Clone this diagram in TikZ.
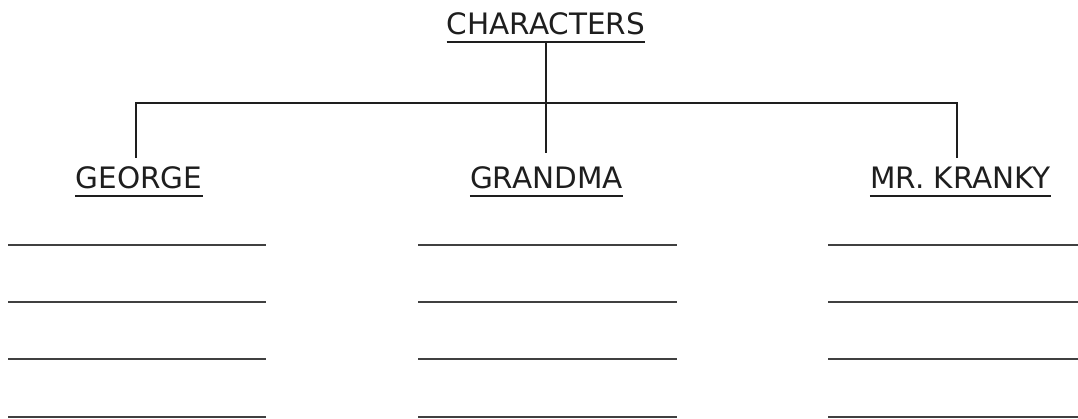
\documentclass[tikz,border=0pt]{standalone}
\usepackage{fontspec}
\setmainfont{DejaVu Sans}
\definecolor{ink}{HTML}{1E1E1E}
\begin{document}
\begin{tikzpicture}[x=1pt,y=-1pt,
  lbl/.style={inner sep=0pt,anchor=base,font=\fontsize{29.5}{32}\selectfont,text=ink},
  rule/.style={draw=ink,line width=2pt},
  blank/.style={draw=ink!85,line width=2pt}]
\useasboundingbox (0,0) rectangle (1078,419);
% labels
\node[lbl] (chr) at (546,35) {CHARACTERS};
\node[lbl] (geo) at (139,189) {GEORGE};
\node[lbl] (gma) at (546.5,189) {GRANDMA};
\node[lbl] (kra) at (960.5,189) {MR. KRANKY};
% underlines
\foreach \n in {chr,geo,gma,kra}{
  \draw[rule] ([yshift=-7pt]\n.base west) -- ([yshift=-7pt]\n.base east);
}
% tree connectors
\coordinate (top) at (546,42);
\coordinate (bl) at (136,103);
\coordinate (br) at (957,103);
\coordinate (geoT) at (136,158);
\coordinate (gmaT) at (546,153);
\coordinate (kraT) at (957,158);
\draw[rule] (top) -- (gmaT);
\draw[rule] (geoT) -- (bl) -- (br) -- (kraT);
% blank lines
\foreach \y in {245,302,359,417}{
  \draw[blank] (8,\y) -- (266,\y);
  \draw[blank] (418,\y) -- (677,\y);
  \draw[blank] (828,\y) -- (1078,\y);
}
\end{tikzpicture}
\end{document}
